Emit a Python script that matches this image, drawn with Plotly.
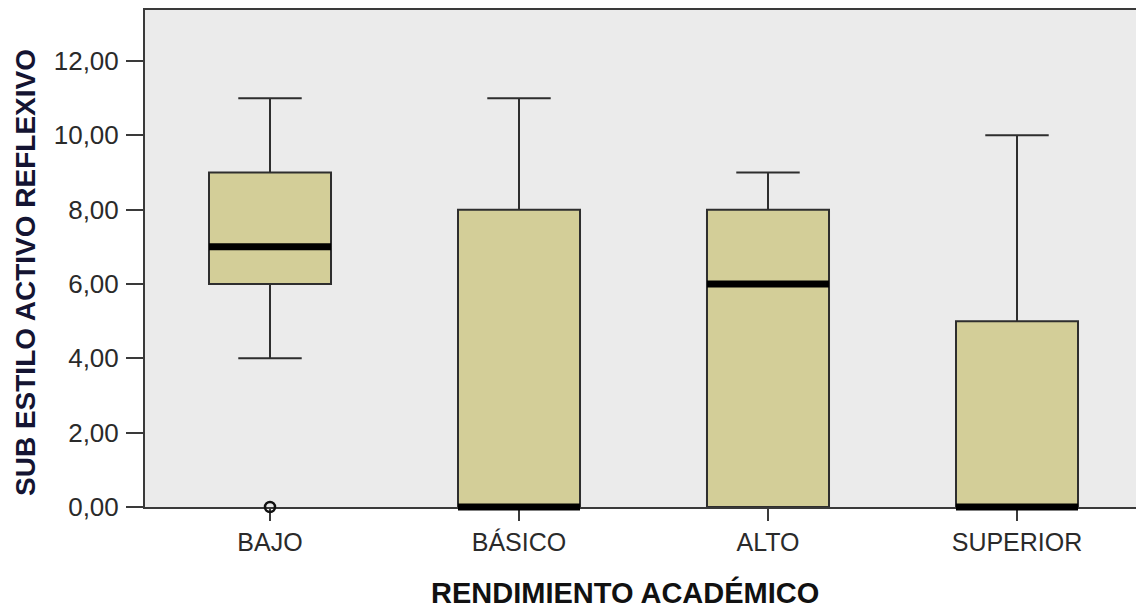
import plotly.graph_objects as go

# Rendimiento académico vs. sub estilo activo reflexivo
categorias = ["BAJO", "BÁSICO", "ALTO", "SUPERIOR"]
minimo = [4, 0, 0, 0]
q1 = [6, 0, 0, 0]
mediana = [7, 0, 6, 0]
q3 = [9, 8, 8, 5]
maximo = [11, 11, 9, 10]
atipico_cat = [0]
atipico_val = [0]

y_ticks = [0, 2, 4, 6, 8, 10, 12]
y_ticktext = ["0,00", "2,00", "4,00", "6,00", "8,00", "10,00", "12,00"]

pos = list(range(len(categorias)))
box_w = 0.49

W, H = 1136, 610
ml, mt, mb, mr = 145, 10, 103, 0
plot_w = W - ml - mr
plot_h = H - mt - mb
px_per_cat = 249.0
x0 = -125.0 / px_per_cat
x_range = [x0, x0 + plot_w / px_per_cat]
px_per_unit = (507 - 61) / 12.0
y_range = [0, plot_h / px_per_unit]

fill = "#D3CE98"
edge = "#2e2e2e"
font = "Liberation Sans, Arial, sans-serif"

fig = go.Figure()
fig.add_trace(go.Box(
    x=pos, q1=q1, median=mediana, q3=q3,
    lowerfence=minimo, upperfence=maximo,
    width=box_w, whiskerwidth=0.52,
    fillcolor=fill, line=dict(color=edge, width=2),
    boxpoints=False, hoverinfo="skip", showlegend=False,
))

# thick median bars (unclipped horizontal line markers; line-ew spans 1.4 x size)
fig.add_trace(go.Scatter(
    x=pos, y=mediana, mode="markers",
    marker=dict(symbol="line-ew", size=(box_w * px_per_cat) / 1.4,
                line=dict(color="#000000", width=7)),
    hoverinfo="skip", showlegend=False, cliponaxis=False,
))

# outlier
fig.add_trace(go.Scatter(
    x=[pos[i] for i in atipico_cat], y=atipico_val, mode="markers",
    marker=dict(symbol="circle-open", size=10, color="#111111",
                line=dict(width=2.5, color="#111111")),
    hoverinfo="skip", showlegend=False, cliponaxis=False,
))

fig.update_layout(
    width=W, height=H,
    margin=dict(l=ml, r=mr, t=mt, b=mb),
    paper_bgcolor="white", plot_bgcolor="#EBEBEB",
    font=dict(family=font, color="#2a2a2a"),
    annotations=[
        dict(text="<b>SUB ESTILO ACTIVO REFLEXIVO</b>", textangle=-90,
             xref="paper", yref="paper", x=(25 - ml) / plot_w, y=(507 - 273) / plot_h,
             xanchor="center", yanchor="middle", showarrow=False,
             font=dict(family=font, size=28, color="#141432")),
        dict(text="<b>RENDIMIENTO ACADÉMICO</b>",
             xref="paper", yref="paper", x=(625 - ml) / plot_w, y=(507 - 592) / plot_h,
             xanchor="center", yanchor="middle", showarrow=False,
             font=dict(family=font, size=29, color="#111111")),
    ],
)
fig.update_xaxes(
    range=x_range, tickmode="array", tickvals=pos, ticktext=categorias,
    showgrid=False, zeroline=False, layer="below traces",
    showline=True, mirror=True, linecolor="#3a3a3a", linewidth=2,
    ticks="outside", ticklen=12, tickwidth=2, tickcolor="#3a3a3a",
    tickfont=dict(family=font, size=25, color="#2a2a2a"),
)
fig.update_yaxes(
    range=y_range, tickmode="array", tickvals=y_ticks, ticktext=y_ticktext,
    showgrid=False, zeroline=False,
    showline=True, mirror=False, linecolor="#3a3a3a", linewidth=2,
    ticks="outside", ticklen=17, tickwidth=2, tickcolor="#3a3a3a",
    ticklabelstandoff=2,
    tickfont=dict(family=font, size=26, color="#2a2a2a"),
)

fig.write_html("out.html")
